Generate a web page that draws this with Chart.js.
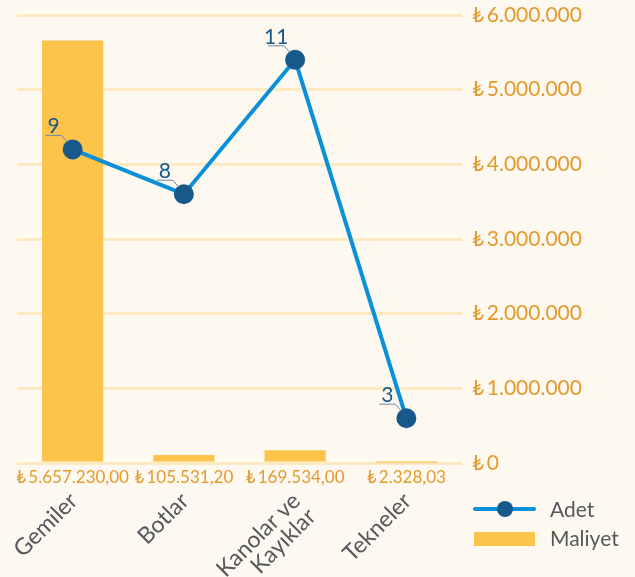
<!DOCTYPE html>
<html>
<head>
<meta charset="utf-8">
<script src="https://cdn.jsdelivr.net/npm/chart.js@4.4.0/dist/chart.umd.min.js"></script>
<style>
  html, body { margin: 0; padding: 0; background: #fdf9f1; }
  #wrap { width: 635px; height: 577px; }
</style>
</head>
<body>
<div id="wrap"><canvas id="costChart" width="635" height="577"></canvas></div>
<script>
const categories = [['Gemiler'], ['Botlar'], ['Kanolar ve', 'Kayıklar'], ['Tekneler']];
const adetValues = [9, 8, 11, 3];
const maliyetValues = [5657230.00, 105531.20, 169534.00, 2328.03];
const costTicks = [0, 1000000, 2000000, 3000000, 4000000, 5000000, 6000000];

const FONT = 'Lato, "Noto Sans", "DejaVu Sans", sans-serif';
const ORANGE_TXT = '#e49a2c';
const BAR_COLOR = '#fdc44c';
const LINE_COLOR = '#0a90d8';
const POINT_COLOR = '#17598a';
const GRAY_TXT = '#55585a';

// 1234567.8 -> "1.234.567,80"
function trNumber(v, decimals) {
    const parts = v.toFixed(decimals).split('.');
    const intPart = parts[0].replace(/\B(?=(\d{3})+(?!\d))/g, '.');
    return parts[1] ? intPart + ',' + parts[1] : intPart;
}

const extrasPlugin = {
    id: 'extras',
    beforeDraw(chart) {
        const c = chart.ctx;
        c.save();
        c.fillStyle = '#fdf9f1';
        c.fillRect(0, 0, chart.width, chart.height);
        c.restore();
    },
    afterDraw(chart) {
        const c = chart.ctx;
        const x = chart.scales.x;
        const bottom = chart.chartArea.bottom;
        c.save();

        // cost labels under each bar
        c.font = '17px ' + FONT;
        c.fillStyle = ORANGE_TXT;
        c.textAlign = 'center';
        c.textBaseline = 'middle';
        maliyetValues.forEach((v, i) => {
            c.fillText('₺\u2009' + trNumber(v, 2), x.getPixelForValue(i), bottom + 15);
        });

        // rotated category labels
        c.font = '23px ' + FONT;
        c.fillStyle = GRAY_TXT;
        c.textAlign = 'right';
        c.textBaseline = 'top';
        categories.forEach((lines, i) => {
            c.save();
            c.translate(x.getPixelForValue(i) - 7, bottom + 26);
            c.rotate(-45 * Math.PI / 180);
            lines.forEach((ln, j) => c.fillText(ln, 0, j * 22));
            c.restore();
        });

        // point labels with leader lines
        const meta = chart.getDatasetMeta(0);
        meta.data.forEach((pt, i) => {
            const px = pt.x, py = pt.y;
            c.strokeStyle = '#6b8aa3';
            c.lineWidth = 1;
            c.beginPath();
            c.moveTo(px - 27, py - 14);
            c.lineTo(px - 11, py - 14);
            c.lineTo(px - 5, py - 7);
            c.stroke();
            c.font = '21px ' + FONT;
            c.fillStyle = POINT_COLOR;
            c.textAlign = 'center';
            c.textBaseline = 'alphabetic';
            c.fillText(String(adetValues[i]), px - 19, py - 16);
        });

        // legend
        const lx = 475;
        c.strokeStyle = LINE_COLOR;
        c.lineWidth = 4;
        c.lineCap = 'round';
        c.beginPath();
        c.moveTo(lx, 509);
        c.lineTo(lx + 59, 509);
        c.stroke();
        c.fillStyle = POINT_COLOR;
        c.beginPath();
        c.arc(lx + 30, 509, 8, 0, Math.PI * 2);
        c.fill();
        c.fillStyle = BAR_COLOR;
        c.fillRect(lx - 1, 532, 61, 14);
        c.font = '21px ' + FONT;
        c.fillStyle = GRAY_TXT;
        c.textAlign = 'left';
        c.textBaseline = 'middle';
        c.fillText(chart.data.datasets[0].label, 550, 510);
        c.fillText(chart.data.datasets[1].label, 550, 539);
        c.restore();
    }
};

new Chart(document.getElementById('costChart'), {
    data: {
        labels: categories,
        datasets: [{
            type: 'line',
            label: 'Adet',
            data: adetValues,
            yAxisID: 'yAdet',
            borderColor: LINE_COLOR,
            borderWidth: 4,
            pointBackgroundColor: POINT_COLOR,
            pointBorderColor: POINT_COLOR,
            pointRadius: 8,
            tension: 0,
            order: 0
        }, {
            type: 'bar',
            label: 'Maliyet',
            data: maliyetValues,
            yAxisID: 'y',
            backgroundColor: BAR_COLOR,
            barPercentage: 0.55,
            categoryPercentage: 1,
            order: 1
        }]
    },
    options: {
        responsive: false,
        animation: false,
        layout: { padding: { left: 17, top: 15, right: 0, bottom: 114 } },
        plugins: {
            legend: { display: false },
            tooltip: { enabled: false }
        },
        scales: {
            x: { display: false, offset: true },
            yAdet: { display: false, position: 'left', min: 2, max: 12 },
            y: {
                position: 'right',
                min: 0,
                max: 6000000,
                afterBuildTicks: scale => { scale.ticks = costTicks.map(v => ({ value: v })); },
                afterFit: scale => {
                    scale.width = 173;
                    scale.paddingTop = 0;
                    scale.paddingBottom = 0;
                },
                border: { display: false },
                grid: { color: '#fde9c2', lineWidth: 3, drawTicks: false },
                ticks: {
                    padding: 10,
                    color: ORANGE_TXT,
                    font: { family: FONT, size: 21 },
                    callback: v => '₺\u2009' + trNumber(v, 0)
                }
            }
        }
    },
    plugins: [extrasPlugin]
});
</script>
</body>
</html>
